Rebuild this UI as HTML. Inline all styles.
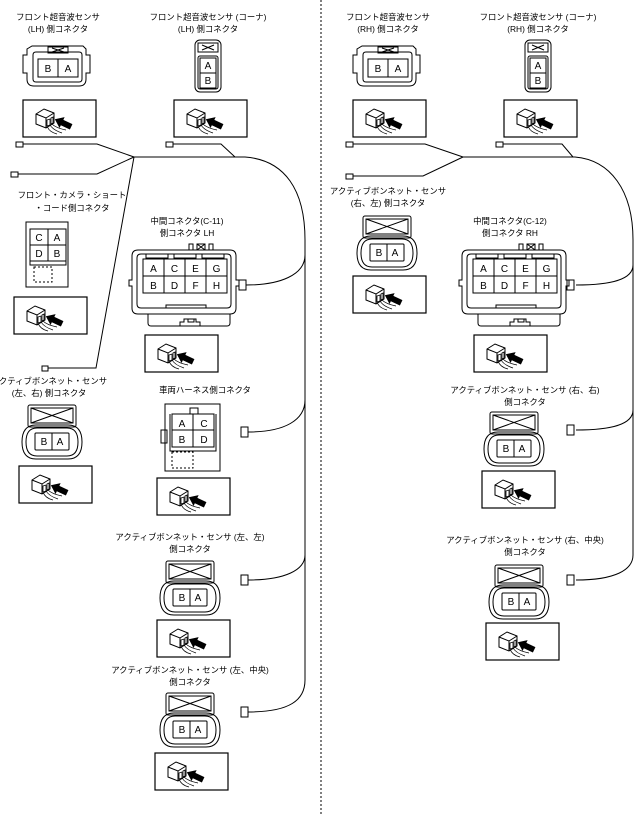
<!DOCTYPE html>
<html><head><meta charset="utf-8"><style>
body{margin:0;background:#fff}
svg{display:block}
text{font-family:"Liberation Sans","Noto Sans CJK JP",sans-serif;font-size:8.4px;fill:#000;text-anchor:middle}
.c{font-size:10px}
</style></head><body>
<svg width="637" height="815" viewBox="0 0 637 815" fill="none" stroke="#000" stroke-width="1">
<defs>
<g id="probe">
<rect x="0" y="0" width="73" height="37" stroke-width="1.2"/>
<path d="M13 14 l8 -5 l10 4 l0 10 l-8 5 l-10 -4 z M13 14 l10 4 l8 -5 M23 18 v10" stroke-width="1"/>
<path d="M24 20 l3 -1 v6 l-3 1z M28 18 l2 -1 v6 l-2 1z" stroke-width=".8"/>
<path d="M24 26 q2 6 10 8 M27 25 q3 5 12 8 M29 24 q4 4 14 6" stroke-width=".7"/>
<path d="M31 23 l8 -6 v3 h10 v6 h-10 v3 z" fill="#000" stroke="none" transform="rotate(25 40 23)"/>
</g>
<g id="bon">
<rect x="6" y="0" width="48" height="22" rx="2"/>
<path d="M9 3 h42 v15 h-42 z M9 3 L51 18 M51 3 L9 18"/>
<path d="M14 20 h32 q14 0 14 17 q0 17 -14 17 h-32 q-14 0 -14 -17 q0 -17 14 -17z"/>
<path d="M15 23 h30 q11 0 11 14 q0 14 -11 14 h-30 q-11 0 -11 -14 q0 -14 11 -14z"/>
<rect x="13" y="28" width="34" height="17" rx="1"/>
<line x1="30" y1="28" x2="30" y2="45"/>
<text x="22" y="40" stroke="none" class="c">B</text><text x="38" y="40" stroke="none" class="c">A</text>
</g>
<g id="us">
<path d="M6 3 h51 l3 3 v6 h4 v18 h-4 v6 q0 7 -7 7 h-45 q-7 0 -7 -7 v-6 h-4 v-18 h4 v-6 z"/>
<path d="M10 9 h43 q3 0 3 3 v24 q0 3 -3 3 h-43 q-3 0 -3 -3 v-24 q0 -3 3 -3z"/>
<rect x="22" y="4" width="20" height="6"/><path d="M26 5 l12 4 M26 9 l12 -4"/>
<rect x="12" y="16" width="40" height="18"/><line x1="32" y1="16" x2="32" y2="34"/>
<text x="22" y="29" stroke="none" class="c">B</text><text x="42" y="29" stroke="none" class="c">A</text>
</g>
<g id="corner">
<rect x="0" y="0" width="26" height="52" rx="5"/>
<rect x="3" y="3" width="20" height="9"/><path d="M7 5 l12 5 M7 10 l12 -5"/>
<rect x="3" y="16" width="20" height="33" rx="2"/>
<rect x="5" y="18" width="16" height="30"/><line x1="5" y1="33" x2="21" y2="33"/>
<text x="13" y="29" stroke="none" class="c">A</text><text x="13" y="44" stroke="none" class="c">B</text>
</g>
<g id="mid">
<rect x="13" y="0" width="4" height="6"/><rect x="21" y="0" width="8" height="6"/><path d="M21 0 l8 6 M29 0 l-8 6"/><rect x="33" y="0" width="4" height="6"/>
<path d="M-38 6 h92 q6 0 6 6 v24 h3 v6 h-3 v22 q0 6 -6 6 h-92 q-6 0 -6 -6 v-22 h-3 v-6 h3 v-24 q0 -6 6 -6z"/>
<path d="M-35 10 h86 q4 0 4 4 v46 q0 4 -4 4 h-86 q-4 0 -4 -4 v-46 q0 -4 4 -4z"/>
<path d="M-30 10 v4 h22 v-4 M-2 10 v4 h22 v-4 M26 10 v4 h22 v-4 M-10 64 v-3 h40 v3"/>
<rect x="-33" y="15" width="84" height="34"/>
<path d="M-12 15 v34 M9 15 v34 M30 15 v34 M-33 32 h84"/>
<text x="-22.5" y="28" stroke="none" class="c">A</text><text x="-1.5" y="28" stroke="none" class="c">C</text><text x="19.5" y="28" stroke="none" class="c">E</text><text x="40.5" y="28" stroke="none" class="c">G</text>
<text x="-22.5" y="45" stroke="none" class="c">B</text><text x="-1.5" y="45" stroke="none" class="c">D</text><text x="19.5" y="45" stroke="none" class="c">F</text><text x="40.5" y="45" stroke="none" class="c">H</text>
<path d="M-28 70 v9 q0 3 3 3 h76 q3 0 3 -3 v-9"/>
<path d="M4 82 v-4 h4 v-3 h12 v3 h4 v4 M12 75 v3 h6 v-3"/>
</g>
</defs>

<line x1="321" y1="0" x2="321" y2="815" stroke-dasharray="2,2"/>

<text x="58" y="20" stroke="none">フロント超音波センサ</text><text x="58" y="32" stroke="none">(LH) 側コネクタ</text>
<use href="#us" x="26" y="43"/>
<use href="#probe" x="23" y="100"/>
<text x="208" y="20" stroke="none">フロント超音波センサ (コーナ)</text><text x="208" y="32" stroke="none">(LH) 側コネクタ</text>
<use href="#corner" x="195" y="40"/>
<use href="#probe" x="174" y="100"/>

<rect x="16" y="142" width="7" height="5"/>
<path d="M23 144 H97 L134 157 L96 368 H48"/>
<rect x="11" y="172" width="7" height="5"/>
<path d="M18 174 H97 L134 157"/>
<rect x="166" y="142" width="7" height="5"/>
<path d="M173 144 H221 L235 157"/>
<rect x="42" y="366" width="6" height="5"/>
<path d="M134 157 H245 C285 160 305 190 305 240 V680 C305 700 290 712 248 712"/>
<path d="M305 255 C305 275 280 285 246 285"/>
<path d="M305 400 C305 420 285 432 248 432"/>
<path d="M305 555 C305 570 285 580 248 580"/>
<rect x="239" y="280" width="7" height="10"/>
<rect x="241" y="427" width="7" height="10"/>
<rect x="241" y="575" width="7" height="10"/>
<rect x="241" y="707" width="7" height="10"/>

<text x="72" y="198" stroke="none">フロント・カメラ・ショート</text><text x="72" y="211" stroke="none">・コード側コネクタ</text>
<rect x="26" y="222" width="42" height="65"/>
<rect x="30" y="229" width="36" height="32"/><path d="M48 229 v32 M30 245 h36 M30 261 v4 h36 v-4"/>
<text x="39" y="241" stroke="none" class="c">C</text><text x="57" y="241" stroke="none" class="c">A</text>
<text x="39" y="257" stroke="none" class="c">D</text><text x="57" y="257" stroke="none" class="c">B</text>
<rect x="34" y="267" width="18" height="15" stroke-dasharray="2,2"/>
<use href="#probe" x="14" y="297"/>

<text x="49" y="384" stroke="none">アクティブボンネット・センサ</text><text x="49" y="396" stroke="none">(左、右) 側コネクタ</text>
<use href="#bon" x="22" y="405"/>
<use href="#probe" x="19" y="466"/>

<text x="187" y="224" stroke="none">中間コネクタ(C-11)</text><text x="187" y="236" stroke="none">側コネクタ LH</text>
<use href="#mid" x="176" y="244"/>
<use href="#probe" x="145" y="335"/>

<text x="205" y="393" stroke="none">車両ハーネス側コネクタ</text>
<rect x="165" y="404" width="55" height="67"/>
<rect x="190" y="408" width="8" height="6"/>
<rect x="161" y="430" width="6" height="13"/>
<rect x="172" y="414" width="42" height="33"/><path d="M193 414 v33 M172 430 h42 M170 414 v37 h46 v-37"/>
<text x="182" y="427" stroke="none" class="c">A</text><text x="204" y="427" stroke="none" class="c">C</text>
<text x="182" y="443" stroke="none" class="c">B</text><text x="204" y="443" stroke="none" class="c">D</text>
<rect x="172" y="452" width="21" height="16" stroke-dasharray="2,2"/>
<use href="#probe" x="157" y="478"/>

<text x="190" y="540" stroke="none">アクティブボンネット・センサ (左、左)</text><text x="190" y="552" stroke="none">側コネクタ</text>
<use href="#bon" x="160" y="561"/>
<use href="#probe" x="157" y="620"/>

<text x="190" y="673" stroke="none">アクティブボンネット・センサ (左、中央)</text><text x="190" y="685" stroke="none">側コネクタ</text>
<use href="#bon" x="160" y="693"/>
<use href="#probe" x="155" y="753"/>

<text x="388" y="20" stroke="none">フロント超音波センサ</text><text x="388" y="32" stroke="none">(RH) 側コネクタ</text>
<use href="#us" x="356" y="43"/>
<use href="#probe" x="353" y="100"/>
<text x="538" y="20" stroke="none">フロント超音波センサ (コーナ)</text><text x="538" y="32" stroke="none">(RH) 側コネクタ</text>
<use href="#corner" x="525" y="40"/>
<use href="#probe" x="504" y="100"/>

<rect x="346" y="142" width="7" height="5"/>
<path d="M353 144 H425 L463 157"/>
<rect x="346" y="174" width="7" height="5"/>
<path d="M353 176 H423 L463 157"/>
<rect x="496" y="142" width="7" height="5"/>
<path d="M503 144 H562 L573 157"/>
<path d="M463 157 H575 C610 160 633 190 633 240 V555 C633 570 615 580 576 580"/>
<path d="M633 265 C633 280 610 285 576 285"/>
<path d="M633 410 C633 425 610 430 576 430"/>
<rect x="567" y="280" width="7" height="10"/>
<rect x="567" y="425" width="7" height="10"/>
<rect x="567" y="575" width="7" height="10"/>

<text x="388" y="194" stroke="none">アクティブボンネット・センサ</text><text x="388" y="206" stroke="none">(右、左) 側コネクタ</text>
<use href="#bon" x="357" y="216"/>
<use href="#probe" x="353" y="276"/>

<text x="510" y="224" stroke="none">中間コネクタ(C-12)</text><text x="510" y="236" stroke="none">側コネクタ RH</text>
<use href="#mid" x="506" y="244"/>
<use href="#probe" x="474" y="335"/>

<text x="525" y="393" stroke="none">アクティブボンネット・センサ (右、右)</text><text x="525" y="405" stroke="none">側コネクタ</text>
<use href="#bon" x="484" y="412"/>
<use href="#probe" x="482" y="471"/>

<text x="525" y="543" stroke="none">アクティブボンネット・センサ (右、中央)</text><text x="525" y="555" stroke="none">側コネクタ</text>
<use href="#bon" x="489" y="565"/>
<use href="#probe" x="486" y="623"/>
</svg>
</body></html>
